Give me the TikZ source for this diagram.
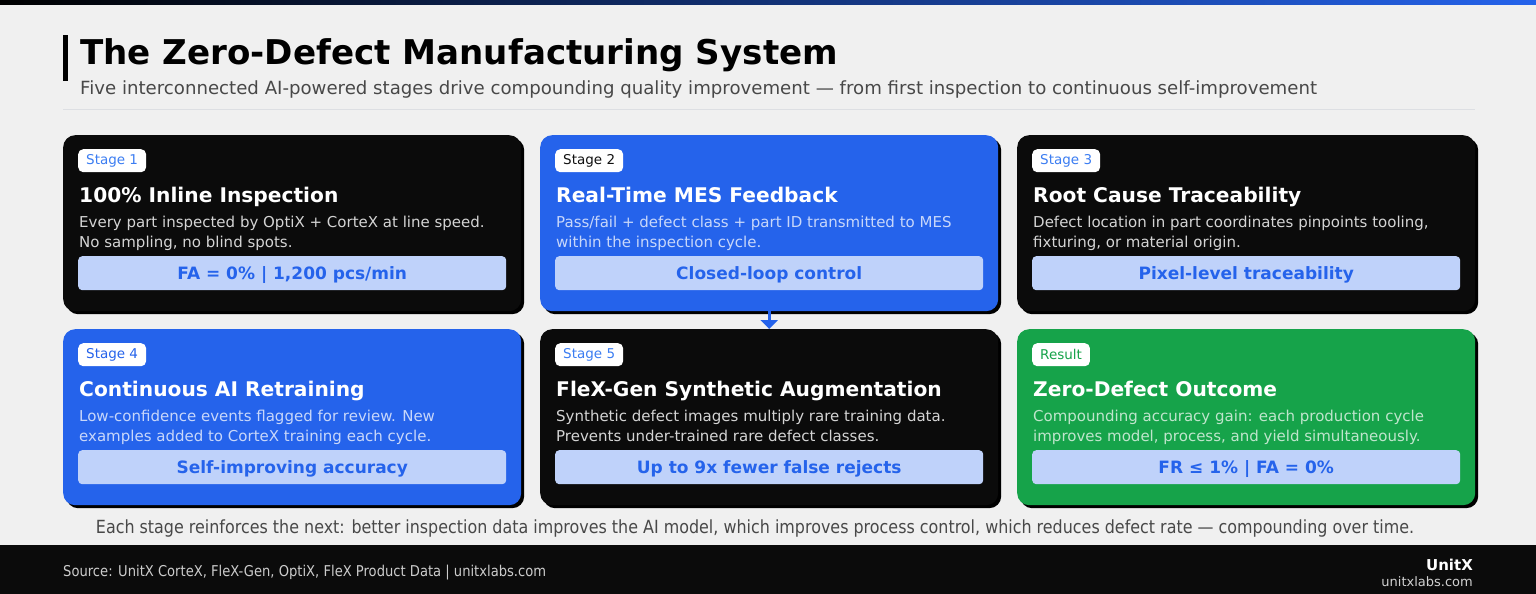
\documentclass[tikz,border=0pt]{standalone}
\usepackage{fontspec}
\setmainfont{DejaVu Sans}
\newfontfamily\condfont[FakeStretch=0.88]{DejaVu Sans}
\usetikzlibrary{arrows.meta}

\definecolor{bgc}{HTML}{F0F0F0}
\definecolor{accent}{HTML}{2563EB}
\definecolor{hilite}{HTML}{BFD2FA}
\definecolor{subc}{HTML}{484848}
\definecolor{sepc}{HTML}{DDDFE3}
\definecolor{footc}{HTML}{0B0B0B}

% card colour sets: fill / body text / badge text
\definecolor{kfill}{HTML}{0B0B0B}\definecolor{kbody}{HTML}{D4D4D4}\definecolor{kbadge}{HTML}{3B7DF2}
\definecolor{bfill}{HTML}{2563EB}\definecolor{bbody}{HTML}{C8D7FA}\definecolor{bbadge}{HTML}{111111}
\definecolor{cfill}{HTML}{2563EB}\definecolor{cbody}{HTML}{C8D7FA}\definecolor{cbadge}{HTML}{2563EB}
\definecolor{gfill}{HTML}{16A34A}\definecolor{gbody}{HTML}{BFE5CC}\definecolor{gbadge}{HTML}{16A34A}

\tikzset{
  cardbox/.style={draw=none, rounded corners=12pt, minimum width=458pt, minimum height=176pt, inner sep=0pt, anchor=north west},
  badgebox/.style={fill=white, rounded corners=5pt, minimum height=23pt, inner xsep=8pt, inner ysep=0pt, anchor=north west, font=\fontsize{13.5}{15}\selectfont},
  headtext/.style={anchor=base west, inner sep=0pt, text=white, font=\fontsize{20.2}{24}\selectfont\bfseries},
  bodytext/.style={anchor=base west, inner sep=0pt, font=\fontsize{15}{18}\selectfont},
  hibox/.style={fill=hilite, rounded corners=4pt, minimum width=428pt, minimum height=34pt, inner sep=0pt, anchor=north west},
  hitext/.style={anchor=base, inner sep=0pt, text=accent, font=\fontsize{17}{20}\selectfont\bfseries},
  flowarrow/.style={draw=accent, line width=3pt, -{Triangle[width=17pt,length=9pt]}},
}

% #1 name, #2 x, #3 y, #4 colour prefix, #5 badge, #6 heading, #7 line 1, #8 line 2, #9 highlight
\newcommand{\stagecard}[9]{%
  \node[cardbox, fill=black] (#1-sh) at (#2+3,#3+3) {};
  \node[cardbox, fill=#4fill] (#1) at (#2,#3) {};
  \node[badgebox, text=#4badge] (#1-badge) at (#2+15,#3+14) {#5};
  \node[headtext] (#1-head) at (#2+16,#3+67) {#6};
  \node[bodytext, text=#4body] (#1-l1) at (#2+16,#3+92) {#7};
  \node[bodytext, text=#4body] (#1-l2) at (#2+16,#3+112) {#8};
  \node[hibox] (#1-hb) at (#2+15,#3+121) {};
  \node[hitext] (#1-ht) at ([yshift=-6pt]#1-hb.center) {#9};
}

\begin{document}
\begin{tikzpicture}[x=1pt, y=-1pt]
\useasboundingbox (0,0) rectangle (1536,594);
\fill[bgc] (0,0) rectangle (1536,594);
\shade[left color=black, right color=accent] (0,0) rectangle (1536,5);

% header
\fill[black] (63,35) rectangle (68,81);
\node[anchor=base west, inner sep=0pt, font=\fontsize{34.1}{40}\selectfont\bfseries] (title) at (80,65) {The Zero-Defect Manufacturing System};
\node[anchor=base west, inner sep=0pt, text=subc, font=\fontsize{18.15}{21}\selectfont] (subtitle) at (80,94) {Five interconnected AI-powered stages drive compounding quality improvement — from first inspection to continuous self-improvement};
\draw[sepc, line width=1pt] (63,109) -- (1475,109);

% cards
\stagecard{c1}{63}{135}{k}{Stage 1}{100\% Inline Inspection}{Every part inspected by OptiX + CorteX at line speed.}{No sampling, no blind spots.}{FA = 0\% | 1,200 pcs/min}
\stagecard{c2}{540}{135}{b}{Stage 2}{Real-Time MES Feedback}{Pass/fail + defect class + part ID transmitted to MES}{within the inspection cycle.}{Closed-loop control}
\stagecard{c3}{1017}{135}{k}{Stage 3}{Root Cause Traceability}{Defect location in part coordinates pinpoints tooling,}{fixturing, or material origin.}{Pixel-level traceability}
\stagecard{c4}{63}{329}{c}{Stage 4}{Continuous AI Retraining}{Low-confidence events flagged for review. New}{examples added to CorteX training each cycle.}{Self-improving accuracy}
\stagecard{c5}{540}{329}{k}{Stage 5}{FleX-Gen Synthetic Augmentation}{Synthetic defect images multiply rare training data.}{Prevents under-trained rare defect classes.}{Up to 9x fewer false rejects}
\stagecard{c6}{1017}{329}{g}{Result}{Zero-Defect Outcome}{Compounding accuracy gain: each production cycle}{improves model, process, and yield simultaneously.}{FR ≤ 1\% | FA = 0\%}

\draw[flowarrow] (c2.south) -- (c5.north);

% caption
\node[anchor=base, inner sep=0pt, text=subc, font=\condfont\fontsize{18.1}{21}\selectfont] (caption) at (755,533) {Each stage reinforces the next: better inspection data improves the AI model, which improves process control, which reduces defect rate — compounding over time.};

% footer
\fill[footc] (0,545) rectangle (1536,594);
\node[anchor=base west, inner sep=0pt, text=white!80!black, font=\condfont\fontsize{14.9}{17}\selectfont] (source) at (63,576) {Source: UnitX CorteX, FleX-Gen, OptiX, FleX Product Data | unitxlabs.com};
\node[anchor=base east, inner sep=0pt, text=white, font=\fontsize{15}{18}\selectfont\bfseries] (brand) at (1473,570) {UnitX};
\node[anchor=base east, inner sep=0pt, text=white!82!black, font=\fontsize{13}{16}\selectfont] (site) at (1473,586) {unitxlabs.com};
\end{tikzpicture}
\end{document}
